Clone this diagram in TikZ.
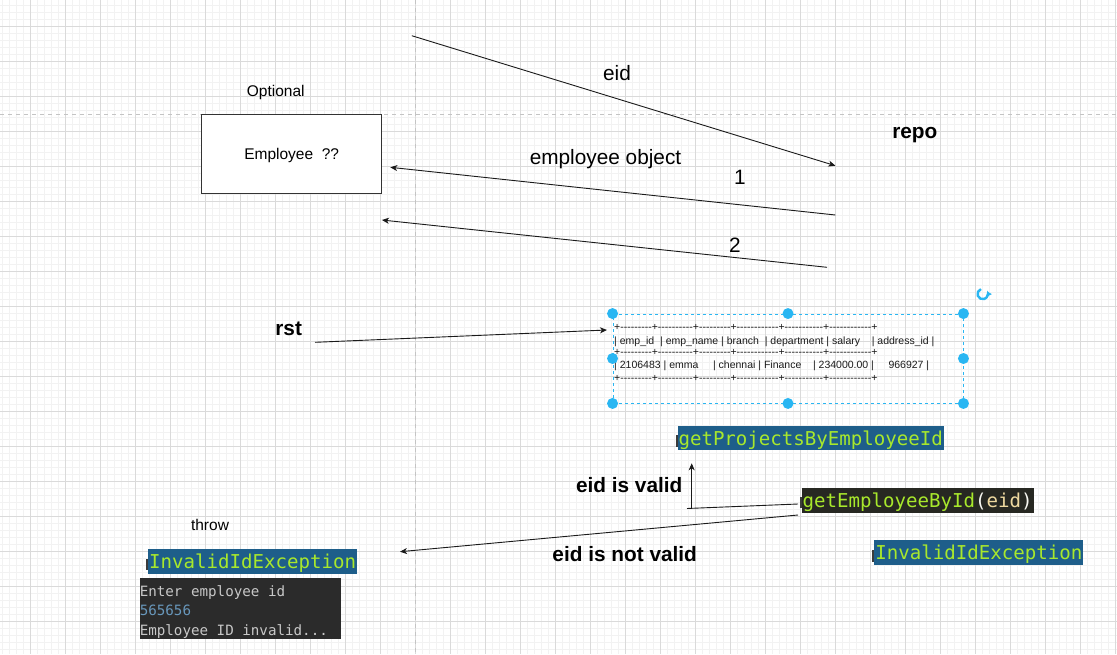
\documentclass[tikz,border=0pt]{standalone}
\usepackage{fontspec}
\setmainfont{Liberation Sans}
\newfontfamily\codefont{DejaVu Sans Mono}
\newfontfamily\tabfont{Liberation Sans}
\usetikzlibrary{arrows.meta}
\definecolor{gridmaj}{HTML}{DADADA}
\definecolor{gridmin}{HTML}{F2F2F2}
\definecolor{guide}{HTML}{C4C4C4}
\definecolor{handleblue}{HTML}{29B6F2}
\definecolor{codeblue}{HTML}{1E5E8A}
\definecolor{codegreen}{HTML}{A8E82C}
\definecolor{codedark}{HTML}{272822}
\definecolor{codeparam}{HTML}{EED9A0}
\definecolor{codewhite}{HTML}{F8F8F2}
\definecolor{notch}{HTML}{3C3C3C}
\definecolor{consolebg}{HTML}{2B2B2B}
\definecolor{consoletext}{HTML}{C8C8C8}
\definecolor{consolenum}{HTML}{6897BB}
\definecolor{ink}{HTML}{1A1A1A}
\newcommand\hyps[1]{\foreach \k in {1,...,#1}{-\kern0pt}}
\newcommand\tabrule{+\hyps{9}+\hyps{10}+\hyps{9}+\hyps{12}+\hyps{11}+\hyps{12}+}
\begin{document}
\begin{tikzpicture}[x=1pt,y=-1pt,
  lbl/.style={font=\fontsize{15.5}{18}\selectfont, inner sep=0pt, anchor=base},
  biglbl/.style={font=\fontsize{20.8}{24}\selectfont, inner sep=0pt, anchor=base},
  boldlbl/.style={font=\fontsize{20.8}{24}\selectfont\bfseries, inner sep=0pt, anchor=base},
  plain/.style={draw=ink, line width=0.9pt},
  conn/.style={plain, -{Stealth[length=7pt,width=6pt,inset=2pt]}},
  codebox/.style={fill=#1, inner xsep=1pt, inner ysep=0pt, text height=19.5pt, text depth=5pt,
     anchor=base west, font=\codefont\fontsize{19.1}{22}\selectfont, text=codegreen},
  notchbox/.style={fill=notch, inner sep=0pt, minimum width=2.2pt, minimum height=11.5pt, anchor=north west},
  handle/.style={circle, fill=handleblue, inner sep=0pt, minimum size=11pt},
  tabline/.style={font=\tabfont\fontsize{10.5}{12}\selectfont, inner sep=0pt, anchor=base west, text=ink},
  conline/.style={font=\codefont\fontsize{14.2}{16}\selectfont, inner sep=0pt, anchor=base west, text=consoletext}
]
\useasboundingbox (0,0) rectangle (1117,654);
\fill[white] (0,0) rectangle (1117,654);
% grid
\foreach \i in {0,...,159} \draw[gridmin, line width=0.8pt] ({2.3+7*\i},0) -- ({2.3+7*\i},654);
\foreach \i in {0,...,92} \draw[gridmin, line width=0.8pt] (0,{5.3+7*\i}) -- (1117,{5.3+7*\i});
\foreach \i in {0,...,31} \draw[gridmaj, line width=0.9pt] ({30.3+35*\i},0) -- ({30.3+35*\i},654);
\foreach \i in {0,...,17} \draw[gridmaj, line width=0.9pt] (0,{26.3+35*\i}) -- (1117,{26.3+35*\i});
% guides
\draw[guide, line width=0.9pt, dash pattern=on 4pt off 4pt] (415.3,0) -- (415.3,654);
\draw[guide, line width=0.9pt, dash pattern=on 4pt off 4pt] (0,114) -- (1117,114);

% Employee box
\node[draw=black!80, fill=white, line width=1.1pt, minimum width=179.7pt, minimum height=78.7pt, inner sep=0pt] (emp) at (291.2,153.7) {};
\node[lbl] (emptext) at (291.7,159.3) {Employee~~??};
\node[lbl] (optional) at (275.8,96.5) {Optional};

% labels
\node[biglbl] (eidl) at (617,80) {eid};
\node[biglbl] (objl) at (605.5,164) {employee object};
\node[biglbl] (one) at (740,184.3) {1};
\node[biglbl] (two) at (735,252.3) {2};
\node[boldlbl] (repo) at (914.8,138.3) {repo};
\node[boldlbl] (rst) at (288.7,335.7) {rst};
\node[boldlbl] (valid) at (629.2,492.3) {eid is valid};
\node[boldlbl] (notvalid) at (624.7,561.7) {eid is not valid};
\node[lbl] (throw) at (210,530.7) {throw};

% arrows top
\coordinate (eidS) at (411.8,35.7);
\coordinate (eidE) at (835.4,165.7);
\draw[conn] (eidS) -- (eidE);
\coordinate (objS) at (835.4,215);
\coordinate (objE) at (390.3,167.3);
\draw[conn] (objS) -- (objE);
\coordinate (twoS) at (827,267.3);
\coordinate (twoE) at (381.9,220);
\draw[conn] (twoS) -- (twoE);

% selection box with table
\node[draw=handleblue, line width=0.9pt, dash pattern=on 3pt off 3pt, minimum width=350pt, minimum height=89pt, inner sep=0pt] (sel) at (788,358.5) {};
\node[tabline] (r1) at (614,330) {\tabrule};
\node[tabline] (r2) at (614,344.3) {|~emp\_id~~|~emp\_name~|~branch~~|~department~|~salary~~~~|~address\_id~|};
\node[tabline] (r3) at (614,355.6) {\tabrule};
\node[tabline] (r4) at (614,368.6) {|~2106483~|~emma~~~~~|~chennai~|~Finance~~~~|~234000.00~|~~~~~966927~|};
\node[tabline] (r5) at (614,381) {\tabrule};
\node[handle] (h1) at (sel.north west) {};
\node[handle] (h2) at (sel.north) {};
\node[handle] (h3) at (sel.north east) {};
\node[handle] (h4) at (sel.west) {};
\node[handle] (h5) at (sel.east) {};
\node[handle] (h6) at (sel.south west) {};
\node[handle] (h7) at (sel.south) {};
\node[handle] (h8) at (sel.south east) {};
\coordinate (rotc) at (982.7,294);
\draw[handleblue, line width=2.4pt, -{Triangle[length=4pt,width=6pt]}] (rotc) ++(-110:5.2) arc[start angle=-110, end angle=-385, radius=5.2];

% rst arrow
\coordinate (rstS) at (315,342.3);
\coordinate (rstE) at (607,330);
\draw[conn] (rstS) -- (rstE);

% code boxes
\node[notchbox] (n1) at (675.6,435) {};
\node[codebox=codeblue] (gproj) at (677.3,445) {getProjectsByEmployeeId};
\node[notchbox] (n2) at (799.3,496.5) {};
\node[codebox=codedark] (gemp) at (801.5,507.5) {getEmployeeById\textcolor{codewhite}{(}\textcolor{codeparam}{eid}\textcolor{codewhite}{)}};
\node[notchbox] (n3) at (872.2,550) {};
\node[codebox=codeblue] (invR) at (874.2,559.7) {InvalidIdException};
\node[notchbox] (n4) at (146,558.3) {};
\node[codebox=codeblue] (invL) at (148,568.5) {InvalidIdException};

% valid / not valid connectors
\coordinate (vA) at (798,504);
\coordinate (vB) at (687,508.5);
\coordinate (vC) at (691.7,508.3);
\coordinate (vD) at (691.7,463.3);
\draw[plain] (vA) -- (vB);
\draw[conn] (vC) -- (vD);
\coordinate (nvS) at (798,515);
\coordinate (nvE) at (400,551.7);
\draw[conn] (nvS) -- (nvE);

% console
\node[fill=consolebg, minimum width=201.7pt, minimum height=60.6pt, inner sep=0pt, anchor=north west] (con) at (139.3,577.7) {};
\node[conline] (c1) at (139.6,596.2) {Enter employee id};
\node[conline, text=consolenum] (c2) at (139.6,615.5) {565656};
\node[conline] (c3) at (139.6,635) {Employee ID invalid...};
\end{tikzpicture}
\end{document}
